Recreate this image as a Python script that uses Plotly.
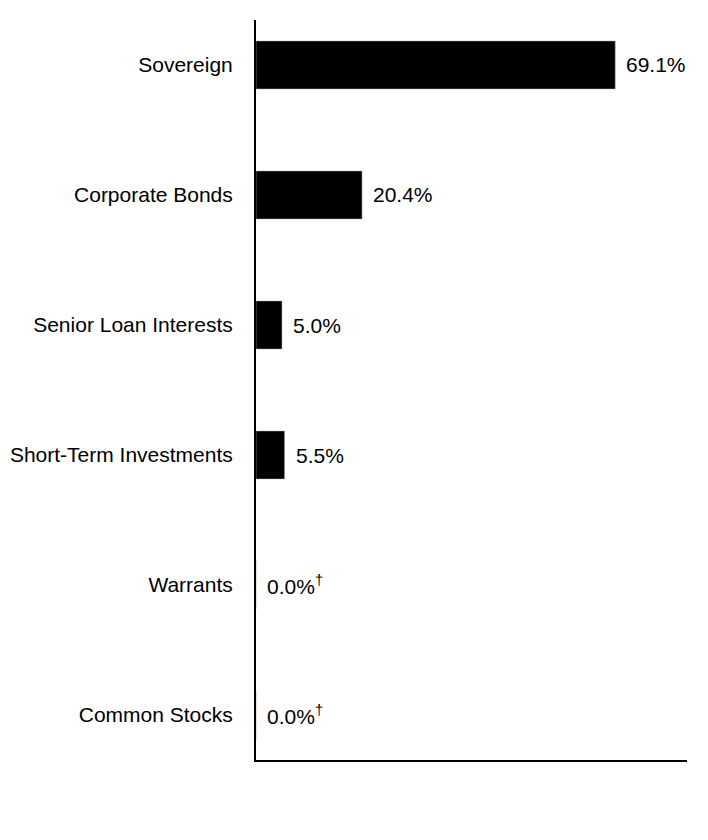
import plotly.graph_objects as go

# Portfolio allocation by asset type (% of total)
categories = ["Sovereign", "Corporate Bonds", "Senior Loan Interests",
              "Short-Term Investments", "Warrants", "Common Stocks"]
values = [69.1, 20.4, 5.0, 5.5, 0.0, 0.0]
labels = ["69.1%", "20.4%", "5.0%", "5.5%",
          "0.0%<sup><span style='color:black'>†</span></sup>",
          "0.0%<sup><span style='color:black'>†</span></sup>"]

font = dict(family="Liberation Sans, Arial, sans-serif", size=21, color="black")

fig = go.Figure()
fig.add_trace(go.Bar(
    x=values, y=categories, orientation="h",
    width=0.37,
    marker=dict(color="black", line=dict(color="#bbbbbb", width=0.5)),
    hoverinfo="skip",
))

for cat, val, lab in zip(categories, values, labels):
    fig.add_annotation(
        x=val, y=cat, text=lab, showarrow=False,
        xanchor="left", yanchor="middle", xshift=9,
        font=font,
    )

# page body adds an 8px offset, so the figure is sized a bit smaller
fig.update_layout(
    width=700, height=832,
    margin=dict(l=248, r=21, t=12, b=80),
    paper_bgcolor="white", plot_bgcolor="white",
    showlegend=False,
    font=font,
)
fig.update_xaxes(
    range=[0, 82.9], showgrid=False, zeroline=False,
    showticklabels=False, ticks="", automargin=False,
    showline=True, linecolor="black", linewidth=2,
)
fig.update_yaxes(
    categoryorder="array", categoryarray=categories,
    range=[5.346, -0.346], showgrid=False, zeroline=False,
    ticks="", ticklabelstandoff=17, tickfont=font, automargin=False,
    showline=True, linecolor="black", linewidth=2,
)

fig.write_html("out.html")
